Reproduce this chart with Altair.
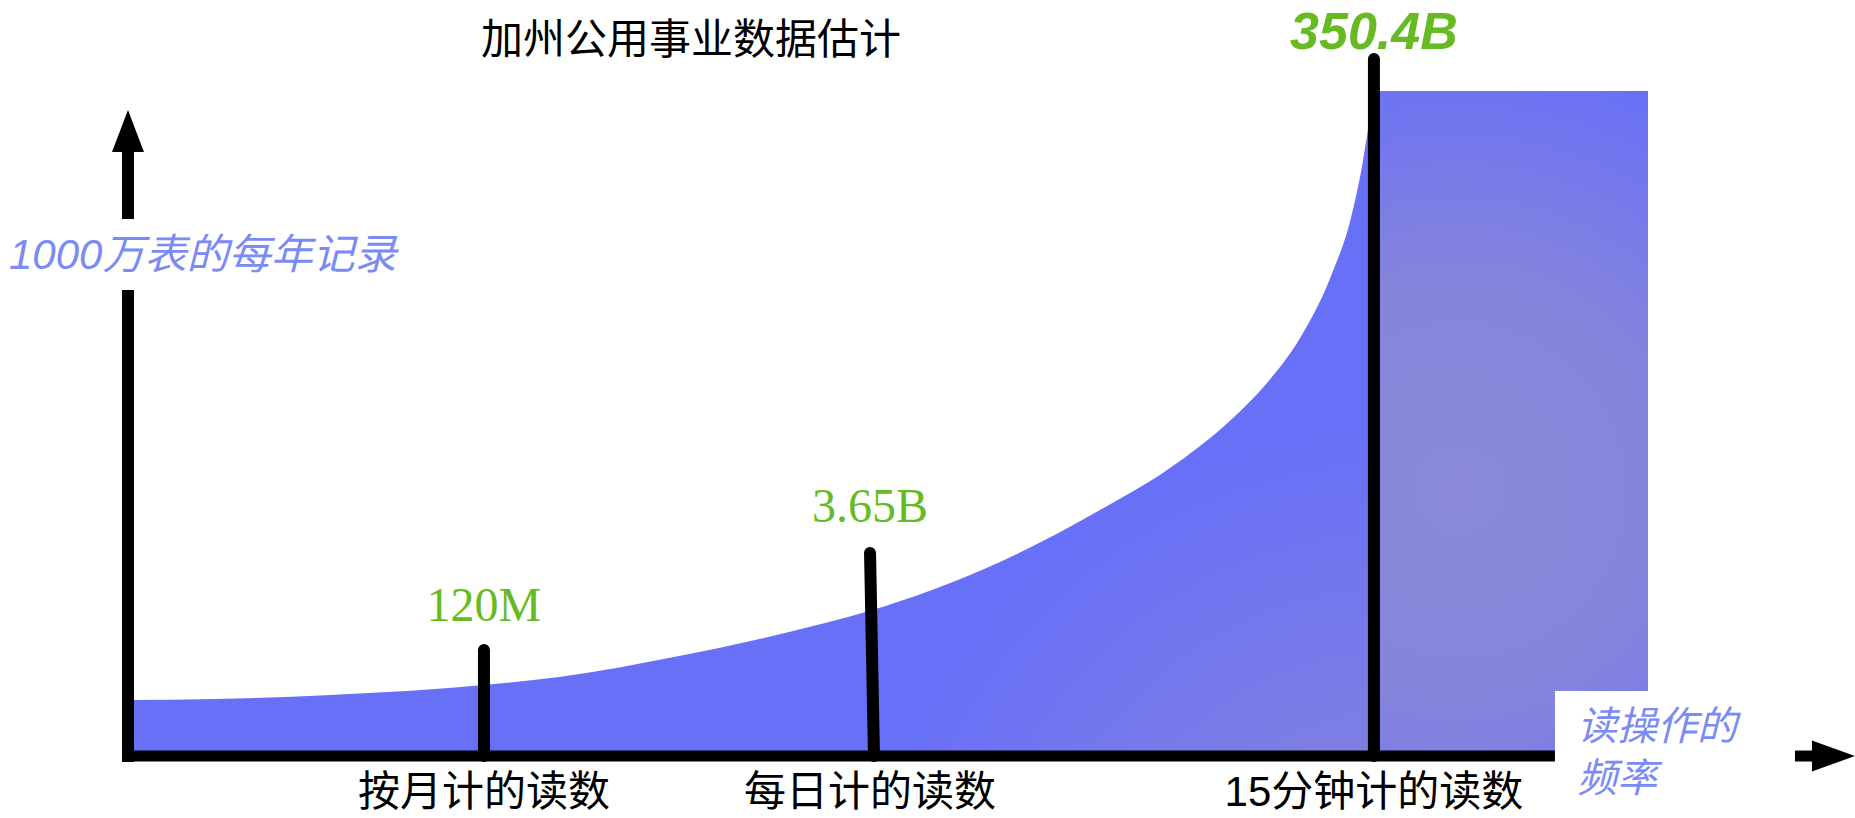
import altair as alt
import pandas as pd

# ---- data (conceptual units: x = read frequency position 0-100, y = yearly records 0-100) ----
curve_x = [0, 5.72, 13.29, 23.42, 28.36, 35.92, 43.49, 48.75, 52.89, 57.37, 63.95,
           68.36, 72.70, 74.93, 77.11, 79.28, 80.39, 81.25, 81.60, 81.97, 100]
curve_y = [8.42, 8.57, 9.17, 10.68, 11.88, 14.89, 18.65, 21.80, 24.96, 29.17, 36.99,
           43.01, 50.83, 56.09, 62.86, 72.93, 80.30, 89.50, 94.50, 100, 100]

reading_names = ["按月计的读数", "每日计的读数", "15分钟计的读数"]
reading_x = [23.42, 48.82, 81.97]
reading_x_base = [23.42, 49.08, 81.97]
reading_level = [15.94, 30.53, 104.8]
reading_values = ["120M", "3.65B", "350.4B"]
value_label_y = [22.41, 37.29, 108.72]

title_text = "加州公用事业数据估计"
y_title = "1000万表的每年记录"
x_title = ["读操作的", "频率"]

XS = alt.Scale(domain=[-8.42, 113.62], nice=False, zero=False)
YS = alt.Scale(domain=[-9.32, 113.69], nice=False, zero=False)


def X(f):
    return alt.X(f, type="quantitative", scale=XS, axis=None)


def Y(f):
    return alt.Y(f, type="quantitative", scale=YS, axis=None)


curve = pd.DataFrame({"x": curve_x, "y": curve_y})

area_grad = alt.Gradient(
    gradient="radial",
    stops=[
        alt.GradientStop(color="#8686DA", offset=0),
        alt.GradientStop(color="#7C7EE4", offset=0.45),
        alt.GradientStop(color="#6870F8", offset=1),
    ],
    x1=0.84, y1=0.86, r1=0, x2=0.84, y2=0.86, r2=0.36,
)

area = alt.Chart(curve).mark_area(interpolate="monotone", color=area_grad).encode(
    x=X("x"), y=Y("y"), y2=alt.datum(0)
)

rect_grad = alt.Gradient(
    gradient="radial",
    stops=[
        alt.GradientStop(color="#8A8AD8", offset=0),
        alt.GradientStop(color="#8484DC", offset=0.5),
        alt.GradientStop(color="#7478EC", offset=0.8),
        alt.GradientStop(color="#6870F6", offset=1),
    ],
    x1=0.42, y1=0.6, r1=0, x2=0.42, y2=0.6, r2=0.66,
)

block = alt.Chart(pd.DataFrame({"x": [reading_x[2]], "x2": [100], "y": [100], "y2": [0]})).mark_rect(
    color=rect_grad
).encode(x=X("x"), x2="x2:Q", y=Y("y"), y2="y2:Q")

# white box behind the x-axis title
box = alt.Chart(pd.DataFrame({"x": [93.88], "x2": [112], "y": [9.77], "y2": [-9.3]})).mark_rect(
    color="white"
).encode(x=X("x"), x2="x2:Q", y=Y("y"), y2="y2:Q")

# axes
yaxis = alt.Chart(pd.DataFrame({"x": [0, 0], "y": [-0.9, 80.75], "y2": [70.08, 90.83]})).mark_rule(
    strokeWidth=12, color="black", strokeCap="butt"
).encode(x=X("x"), y=Y("y"), y2="y2:Q")

xaxis = alt.Chart(pd.DataFrame({"x": [-0.39, 109.67], "x2": [93.88, 110.9], "y": [0, 0]})).mark_rule(
    strokeWidth=11, color="black", strokeCap="butt"
).encode(x=X("x"), x2="x2:Q", y=Y("y"))

up_head = alt.Chart(pd.DataFrame({"x": [0], "y": [93.98]})).mark_point(
    shape="M0,-1L0.76,1L-0.76,1Z", size=1764, filled=True, color="black", opacity=1, strokeWidth=0
).encode(x=X("x"), y=Y("y"))

right_head = alt.Chart(pd.DataFrame({"x": [112.2], "y": [0]})).mark_point(
    shape="M1,0L-1,-0.72L-1,0.72Z", size=1849, filled=True, color="black", opacity=1, strokeWidth=0
).encode(x=X("x"), y=Y("y"))

# reading ticks
ticks_df = pd.DataFrame({"x": reading_x_base, "x2": reading_x, "y": [0, 0, 0], "y2": reading_level})
ticks = alt.Chart(ticks_df).mark_rule(strokeWidth=12, color="black", strokeCap="round").encode(
    x=X("x"), x2="x2:Q", y=Y("y"), y2="y2:Q"
)

vals = pd.DataFrame({"x": reading_x, "y": value_label_y, "t": reading_values})
val_small = alt.Chart(vals.iloc[:2]).mark_text(
    font="Liberation Serif", fontSize=48, color="#66BB22", baseline="middle", align="center"
).encode(x=X("x"), y=Y("y"), text="t:N")
val_big = alt.Chart(vals.iloc[2:]).mark_text(
    font="Liberation Sans", fontSize=52, fontWeight="bold", fontStyle="italic",
    color="#66BB22", baseline="middle", align="center"
).encode(x=X("x"), y=Y("y"), text="t:N")

names = pd.DataFrame({"x": reading_x, "y": [-5.56] * 3, "t": reading_names})
name_text = alt.Chart(names).mark_text(
    font="Liberation Sans, Noto Sans CJK SC", fontSize=42, color="black",
    baseline="middle", align="center"
).encode(x=X("x"), y=Y("y"), text="t:N")

title = alt.Chart(pd.DataFrame({"x": [37.04], "y": [107.5], "t": [title_text]})).mark_text(
    font="Noto Sans CJK SC", fontSize=42, color="black", baseline="middle", align="center"
).encode(x=X("x"), y=Y("y"), text="t:N")

ylab = alt.Chart(pd.DataFrame({"x": [-7.83], "y": [75.19], "t": [y_title]})).mark_text(
    font="Liberation Sans, Noto Sans CJK SC", fontSize=42, fontStyle="italic", color="#7B8BF5",
    baseline="middle", align="left"
).encode(x=X("x"), y=Y("y"), text="t:N")

xlab = alt.Chart(pd.DataFrame({"x": [95.33, 95.33], "y": [4.21, -3.61], "t": x_title})).mark_text(
    font="Noto Sans CJK SC", fontSize=40, fontStyle="italic", color="#7B8BF5",
    baseline="middle", align="left"
).encode(x=X("x"), y=Y("y"), text="t:N")

chart = alt.layer(
    area, block, box, ticks, yaxis, xaxis, up_head, right_head,
    val_small, val_big, name_text, title, ylab, xlab
).properties(
    width=1855, height=818, autosize="none", padding=0
).configure_view(strokeWidth=0)

chart.save("out.html", embed_options={"renderer": "svg", "actions": False})
